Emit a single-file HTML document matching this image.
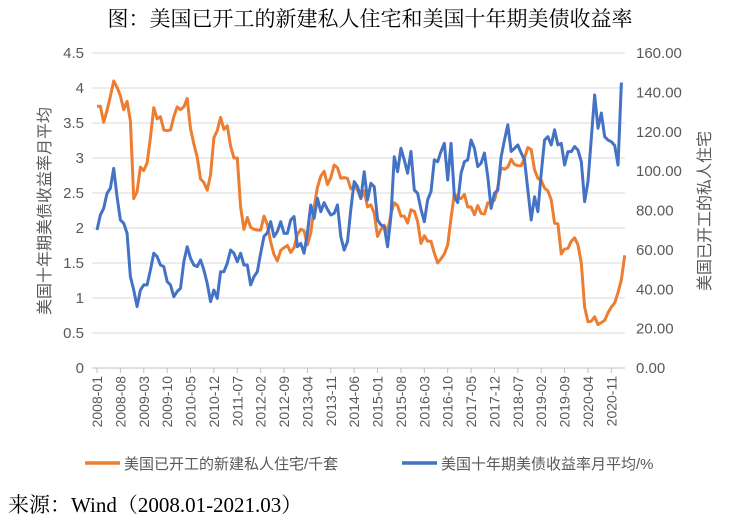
<!DOCTYPE html>
<html><head><meta charset="utf-8"><style>
body{margin:0;background:#fff;width:743px;height:525px;overflow:hidden}
svg text{font-family:"Liberation Sans","Noto Sans CJK SC",sans-serif}
</style></head><body>
<svg id="c" width="743" height="525">
<text x="370" y="26" text-anchor="middle" font-size="21" fill="#000" style="font-family:'Liberation Serif','Noto Serif CJK SC',serif">图：美国已开工的新建私人住宅和美国十年期美债收益率</text>
<g id="grid"></g><g id="ticks"></g><g id="series"></g>
<text transform="translate(50,211) rotate(-90)" text-anchor="middle" font-size="16" fill="#595959">美国十年期美债收益率月平均</text>
<text transform="translate(710,211) rotate(-90)" text-anchor="middle" font-size="16" fill="#595959">美国已开工的私人住宅</text>
<g>
<line x1="85" y1="463" x2="120" y2="463" stroke="#ED7D31" stroke-width="3.5"/>
<text x="124" y="469" font-size="15" fill="#595959">美国已开工的新建私人住宅/千套</text>
<line x1="402" y1="463" x2="437" y2="463" stroke="#4472C4" stroke-width="3.5"/>
<text x="441" y="469" font-size="15" fill="#595959">美国十年期美债收益率月平均/%</text>
</g>
<text x="8" y="512" font-size="21" fill="#000" style="font-family:'Liberation Serif','Noto Serif CJK SC',serif">来源：Wind（2008.01-2021.03）</text>
</svg>
<script>
const leftTicks=[0,0.5,1,1.5,2,2.5,3,3.5,4,4.5];
const rightTicks=["0.00","20.00","40.00","60.00","80.00","100.00","120.00","140.00","160.00"];
const xLabels=["2008-01","2008-08","2009-03","2009-10","2010-05","2010-12","2011-07","2012-02","2012-09","2013-04","2013-11","2014-06","2015-01","2015-08","2016-03","2016-10","2017-05","2017-12","2018-07","2019-02","2019-09","2020-04","2020-11"];
const orangeSeries=[3.74,3.74,3.51,3.68,3.88,4.10,4.01,3.89,3.69,3.81,3.53,2.42,
2.52,2.87,2.82,2.93,3.29,3.72,3.56,3.59,3.40,3.39,3.40,3.59,
3.73,3.69,3.73,3.85,3.42,3.20,3.01,2.70,2.65,2.54,2.76,3.29,
3.39,3.58,3.41,3.46,3.17,3.00,3.00,2.30,1.98,2.15,2.01,1.98,
1.97,1.97,2.17,2.05,1.80,1.62,1.53,1.68,1.72,1.75,1.65,1.72,
1.91,1.98,1.96,1.76,1.93,2.30,2.58,2.74,2.81,2.62,2.72,2.90,
2.86,2.71,2.72,2.71,2.56,2.60,2.54,2.42,2.53,2.30,2.33,2.21,
1.88,1.98,2.04,1.94,2.20,2.36,2.32,2.17,2.17,2.07,2.26,2.24,
2.09,1.78,1.89,1.81,1.81,1.64,1.50,1.56,1.63,1.76,2.14,2.49,
2.43,2.42,2.48,2.30,2.30,2.19,2.32,2.21,2.20,2.36,2.35,2.40,
2.58,2.86,2.84,2.87,2.98,2.91,2.89,2.89,3.00,3.15,3.12,2.83,
2.71,2.68,2.57,2.53,2.40,2.07,2.06,1.63,1.70,1.71,1.81,1.86,
1.76,1.50,0.87,0.66,0.67,0.73,0.62,0.65,0.68,0.79,0.87,0.93,
1.08,1.26,1.61];
const blueSeries=[70.1,77.7,81.1,88.7,91.3,101.4,87,75.2,73.5,68.4,46.4,39.6,31.2,39.6,42.2,42.2,49.8,58.3,56.6,52.3,51.5,43.9,42.2,36.2,38.8,40.5,54,61.6,55.7,52.3,51.5,54.9,49.8,43,33.7,39.6,35.4,48.9,48.9,53.2,59.9,58.3,54,58.3,52.3,52.3,42.2,46.4,48.9,58.3,66.9,68.6,74.3,
66.7,69.3,74.3,68.4,68.4,75.2,76.9,61.6,63.3,58.3,68.6,82.8,76,86.2,79.4,84,80.6,77.7,78.5,82.8,66.7,59.9,64.2,80.6,94.7,92.1,86.2,99.7,85.4,93.8,92.1,75.2,72.7,71.8,61.6,76.9,107.3,99.7,111.6,105.7,98.9,110,90.4,88.7,80.6,74.3,85.4,89.6,105.7,104.8,110,114.1,95.5,114.1,87,84,
98.9,104.8,105.7,115.8,111.6,102.3,104,109.2,97.2,81.1,88.7,90.4,107.3,115.8,123.5,110,111.6,113.3,109.2,105.7,90.4,75.2,87,79.4,98.9,115.8,117.5,113.3,121,113.3,114.1,103.1,109.9,109.9,112.5,110.7,104.8,84.5,94.7,116.7,138.7,121.8,129.5,117.5,115.8,114.9,113,103.1,145];
const NS="http://www.w3.org/2000/svg";
const X0=97,DX=3.34,YB=368,YT=53;
const xs=i=>X0+i*DX;
const yL=v=>YB-(v/4.5)*(YB-YT);
const yR=v=>YB-(v/160)*(YB-YT);
function mk(tag,parent,attrs){const e=document.createElementNS(NS,tag);for(const k in attrs)e.setAttribute(k,attrs[k]);parent.appendChild(e);return e;}
const grid=document.getElementById('grid'),ticks=document.getElementById('ticks'),ser=document.getElementById('series');
leftTicks.forEach(v=>{
  const y=yL(v);
  const l=mk('line',grid,{x1:92,x2:625,y1:y,y2:y,stroke:v===0?'#bfbfbf':'#d9d9d9','stroke-width':1});
  
  
  const t=mk('text',ticks,{x:84,y:y+5,'text-anchor':'end','font-size':15,fill:'#595959'});
  t.textContent=String(v);
  
  
});
rightTicks.forEach(s=>{
  const y=yR(parseFloat(s));
  const t=mk('text',ticks,{x:636,y:y+5,'font-size':15,fill:'#595959'});
  t.textContent=s;
  
  
});
xLabels.forEach((s,k)=>{
  const x=xs(k*7);
  const tk=mk('line',ticks,{x1:x,x2:x,y1:YB,y2:YB+5,stroke:'#bfbfbf'});
  
  
  const t=mk('text',ticks,{transform:`translate(${x+5},${YB+8}) rotate(-90)`,'text-anchor':'end','font-size':14,fill:'#595959'});
  t.textContent=s;
  
  
});
const po=mk('polyline',ser,{points:orangeSeries.map((v,i)=>xs(i)+','+yL(v)).join(' '),fill:'none',stroke:'#ED7D31','stroke-width':3,'stroke-linejoin':'round'});


const pb=mk('polyline',ser,{points:blueSeries.map((v,i)=>xs(i)+','+yR(v)).join(' '),fill:'none',stroke:'#4472C4','stroke-width':3,'stroke-linejoin':'round'});


</script>
</body></html>
